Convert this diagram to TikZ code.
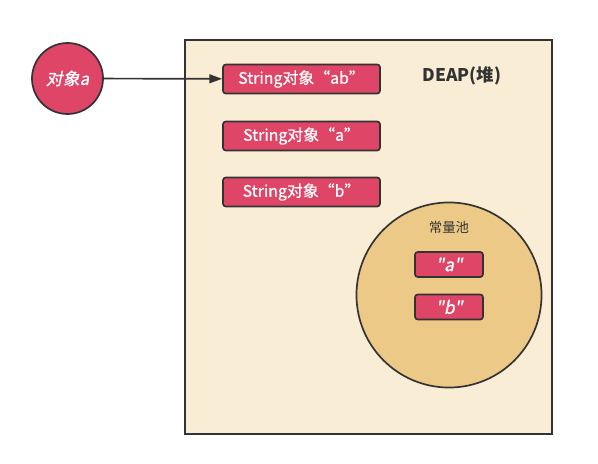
\documentclass[tikz,border=0pt]{standalone}
\usepackage{fontspec}
\setmainfont{Noto Sans CJK SC}
\newfontfamily\slantfont[FakeSlant=0.2,FakeBold=0.8]{Noto Sans CJK SC}
\newfontfamily\boxfont[FakeBold=0.6]{Noto Sans CJK SC}
\usetikzlibrary{arrows.meta}
\definecolor{objred}{HTML}{DF4566}
\definecolor{heapbg}{HTML}{F9EED5}
\definecolor{poolbg}{HTML}{EDC987}
\definecolor{edge}{HTML}{333333}
\begin{document}
\begin{tikzpicture}[x=0.025cm,y=-0.025cm,
  obj/.style={draw=edge,line width=1.2pt,fill=objred,text=white,rounded corners=2pt,
    minimum width=3.925cm,minimum height=0.725cm,inner sep=0pt,font=\boxfont\fontsize{11.3}{12}\selectfont},
  lit/.style={obj,minimum width=1.7cm,minimum height=0.625cm,font=\slantfont\fontsize{12.5}{13}\selectfont},
  ref/.style={circle,draw=edge,line width=1.2pt,fill=objred,text=white,minimum size=1.775cm,inner sep=0pt,
    font=\slantfont\fontsize{12}{13}\selectfont},
  link/.style={draw=edge,line width=1.2pt,-{Triangle[length=3.2mm,width=2.2mm]}}]
\useasboundingbox (0,0) rectangle (598,464);
% heap area
\node[draw=edge,line width=1.2pt,fill=heapbg,minimum width=9.175cm,minimum height=9.85cm,inner sep=0pt] (heap) at (368.5,237) {};
\node[text=edge,font=\bfseries\fontsize{12.4}{14}\selectfont] (heaplabel) at (462,76) {DEAP(堆)};
% string objects
\node[obj] (sab) at (301.5,79) {String对象“ab”};
\node[obj] (sa) at (301.5,136) {String对象“a”};
\node[obj] (sb) at (301.5,192) {String对象“b”};
% constant pool
\node[circle,draw=edge,line width=1.2pt,fill=poolbg,minimum size=4.625cm,inner sep=0pt] (pool) at (449,295) {};
\node[text=edge,font=\fontsize{9.5}{11}\selectfont] (poollabel) at (449,227) {常量池};
\node[lit] (la) at (449,264.5) {"a"};
\node[lit] (lb) at (449,307) {"b"};
% reference
\node[ref] (a) at (67.5,78.5) {对象a};
\draw[link] (a) -- (sab);
\end{tikzpicture}
\end{document}
